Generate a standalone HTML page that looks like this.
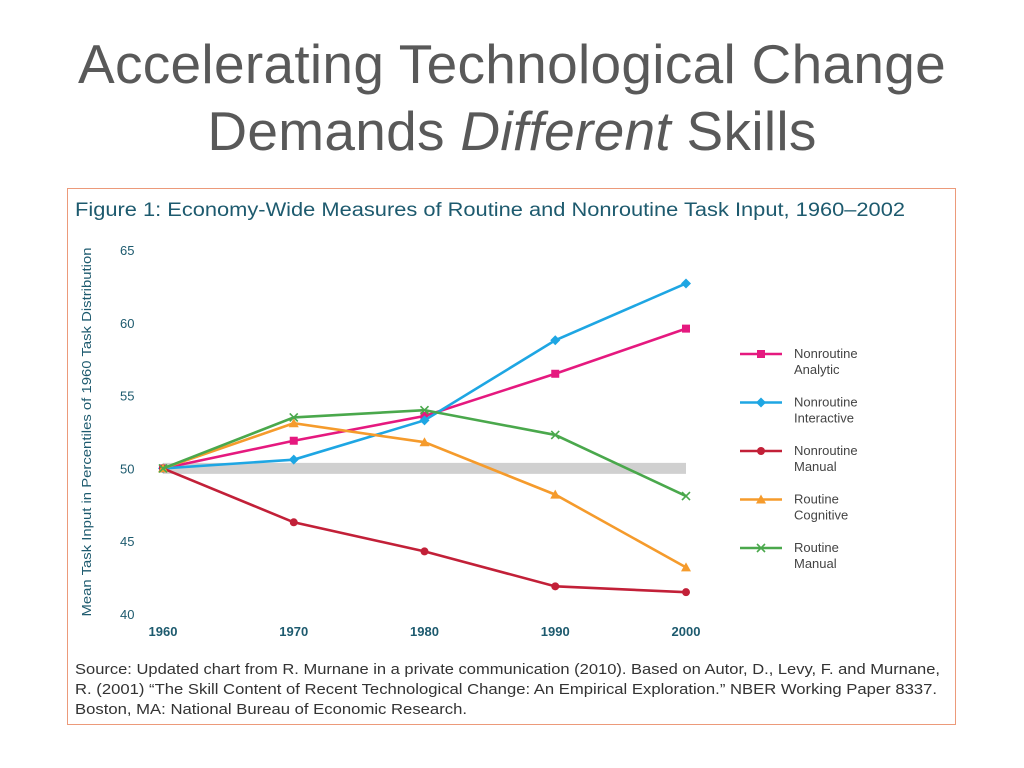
<!DOCTYPE html>
<html><head><meta charset="utf-8">
<style>
body{margin:0;width:1024px;height:768px;background:#fff;overflow:hidden;font-family:"Liberation Sans",sans-serif;}
#title{position:absolute;left:0;top:31px;width:1024px;text-align:center;font-size:55px;line-height:67px;color:#595959;letter-spacing:0.3px;}
#frame{position:absolute;left:67px;top:188px;width:889px;height:537px;border:1px solid #ec9a7a;box-sizing:border-box;}
svg{position:absolute;left:0;top:0;}
</style></head><body>
<div id="title">Accelerating Technological Change<br>Demands <i>Different</i> Skills</div>
<div id="frame"></div>
<svg id="chart" width="1024" height="768">
<text x="75" y="216" font-size="19" fill="#1d5a6e" textLength="830" lengthAdjust="spacingAndGlyphs">Figure 1: Economy-Wide Measures of Routine and Nonroutine Task Input, 1960–2002</text>
<text transform="translate(91,432) rotate(-90)" text-anchor="middle" font-size="13" fill="#1d5a6e" textLength="369" lengthAdjust="spacingAndGlyphs">Mean Task Input in Percentiles of 1960 Task Distribution</text>
<text x="75" y="674" font-size="14.5" fill="#333" textLength="865" lengthAdjust="spacingAndGlyphs">Source: Updated chart from R. Murnane in a private communication (2010). Based on Autor, D., Levy, F. and Murnane,</text>
<text x="75" y="694" font-size="14.5" fill="#333" textLength="862" lengthAdjust="spacingAndGlyphs">R. (2001) “The Skill Content of Recent Technological Change: An Empirical Exploration.” NBER Working Paper 8337.</text>
<text x="75" y="714" font-size="14.5" fill="#333" textLength="392" lengthAdjust="spacingAndGlyphs">Boston, MA: National Bureau of Economic Research.</text>
</svg>
<script>
const years=[1960,1970,1980,1990,2000];
const yTicks=[40,45,50,55,60,65];
const names=["Nonroutine Analytic","Nonroutine Interactive","Nonroutine Manual","Routine Cognitive","Routine Manual"];
const analytic=[50,51.9,53.6,56.5,59.6];
const interactive=[50,50.6,53.3,58.8,62.7];
const manualNR=[50,46.3,44.3,41.9,41.5];
const cognitive=[50,53.1,51.8,48.2,43.2];
const manualR=[50,53.5,54.0,52.3,48.1];
const series=[analytic,interactive,manualNR,cognitive,manualR];
const colors=["#e5197f","#1ea6e3","#c22038","#f59b2c","#4aa84c"];
const markers=["square","diamond","circle","triangle","x"];
const svg=document.getElementById('chart');const NS="http://www.w3.org/2000/svg";
const X=y=>163+(y-1960)/40*523;
const Y=v=>614-(v-40)/25*364;
function mk(t,a){const e=document.createElementNS(NS,t);for(const k in a)e.setAttribute(k,a[k]);svg.appendChild(e);return e;}
yTicks.forEach(v=>{const t=mk('text',{x:120,y:Y(v)+5,'font-size':13,fill:'#1d5a6e'});t.textContent=v;

});
years.forEach(v=>{const t=mk('text',{x:X(v),y:636,'font-size':13,fill:'#1d5a6e','text-anchor':'middle','font-weight':'bold'});t.textContent=v;

});
const band=mk('line',{x1:X(1960),x2:X(2000),y1:Y(50),y2:Y(50),stroke:'#d0d0d0','stroke-width':11});


function marker(kind,x,y,c){let e;
if(kind==='square')e=mk('rect',{x:x-4,y:y-4,width:8,height:8,fill:c});
else if(kind==='diamond')e=mk('path',{d:`M${x} ${y-5}L${x+5} ${y}L${x} ${y+5}L${x-5} ${y}Z`,fill:c});
else if(kind==='circle')e=mk('circle',{cx:x,cy:y,r:4,fill:c});
else if(kind==='triangle')e=mk('path',{d:`M${x} ${y-5}L${x+5} ${y+4}L${x-5} ${y+4}Z`,fill:c});
else e=mk('path',{d:`M${x-4} ${y-4}L${x+4} ${y+4}M${x+4} ${y-4}L${x-4} ${y+4}`,stroke:c,'stroke-width':1.6});
return e;}
series.forEach((s,i)=>{
const p=mk('polyline',{points:s.map((v,j)=>X(years[j])+','+Y(v)).join(' '),fill:'none',stroke:colors[i],'stroke-width':2.6});


s.forEach((v,j)=>{const m=marker(markers[i],X(years[j]),Y(v),colors[i]);

});
const ly=354+i*48.5;
const ll=mk('line',{x1:740,x2:782,y1:ly,y2:ly,stroke:colors[i],'stroke-width':2.6});


marker(markers[i],761,ly,colors[i]);
const w=names[i].split(' ');
[0,1].forEach(k=>{const t=mk('text',{x:794,y:ly+4+k*16,'font-size':13,fill:'#444'});t.textContent=w[k];

});
});
</script>
</body></html>
